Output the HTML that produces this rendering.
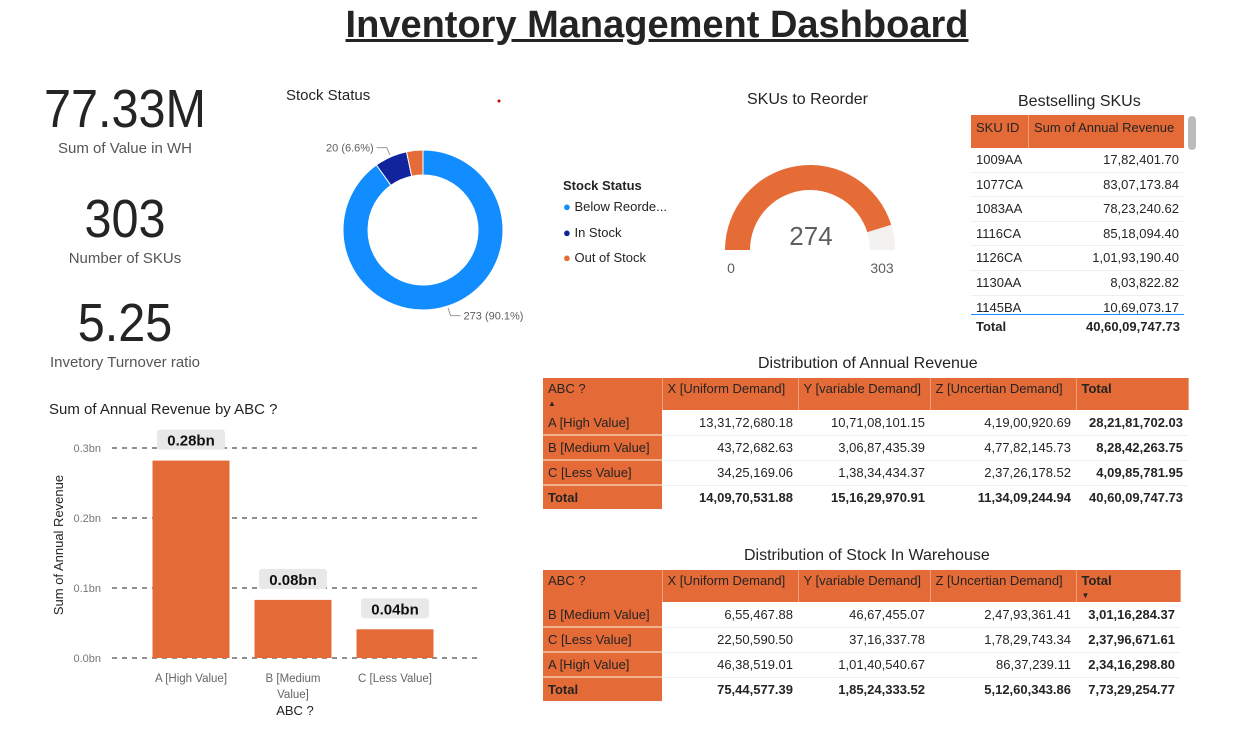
<!DOCTYPE html>
<html><head><meta charset="utf-8"><style>
*{box-sizing:border-box;margin:0;padding:0}
body{width:1236px;height:731px;background:#fff;font-family:"Liberation Sans",sans-serif;position:relative;overflow:hidden;color:#252423}
.abs{position:absolute}
.kpi{position:absolute;text-align:center;width:250px;left:0}
.kv{font-size:54px;color:#252423;transform:scaleX(0.9)}
.kl{font-size:15px;color:#555}
table{border-collapse:collapse;position:absolute;font-size:13px;table-layout:fixed}
td,th{padding:0 5px;white-space:nowrap;overflow:hidden}
.mt th{background:#E46A37;color:#252423;font-weight:normal;text-align:left;vertical-align:top;padding-top:4px;line-height:13px;border-right:1px solid #f0a07a;height:27px}
.mt td{text-align:right;border-bottom:1px solid #eee;height:25px;line-height:23px}
.mt td.f{background:#E46A37;text-align:left;border-bottom:2px solid #f3b08f}
.mt tr.t td{font-weight:bold;border-bottom:none;height:23px}
.b{font-weight:bold}
</style></head><body>
<div class="abs" style="left:0;width:1314px;top:4px;text-align:center;font-size:38px;font-weight:bold;text-decoration:underline">Inventory Management Dashboard</div>

<div class="kpi" style="top:78px"><div class="kv">77.33M</div><div class="kl">Sum of Value in WH</div></div>
<div class="kpi" style="top:188px"><div class="kv">303</div><div class="kl">Number of SKUs</div></div>
<div class="kpi" style="top:292px"><div class="kv">5.25</div><div class="kl">Invetory Turnover ratio</div></div>

<div class="abs" style="left:286px;top:87px;font-size:15px">Stock Status</div>
<svg class="abs" style="left:0;top:0" width="1236" height="731">
<g id="donut"></g>
<g id="gauge"></g>
<g id="bars"></g>
<circle cx="499" cy="101" r="1.5" fill="#c00"/>
</svg>
<div class="abs" style="left:563px;top:178px;font-size:13px;line-height:25.5px">
<div class="b" style="line-height:16px">Stock Status</div>
<div><span style="color:#118DFF">●</span> Below Reorde...</div>
<div><span style="color:#12239E">●</span> In Stock</div>
<div><span style="color:#E66C37">●</span> Out of Stock</div>
</div>
<div class="abs" style="left:747px;top:91px;font-size:16px">SKUs to Reorder</div>

<div class="abs" style="left:1018px;top:93px;font-size:16px">Bestselling SKUs</div>
<div class="abs" style="left:1188px;top:116px;width:8px;height:34px;background:#bbb;border-radius:4px"></div>
<div class="abs" style="left:971px;top:115px;width:213px;height:200px;overflow:hidden;font-size:13px">
<div style="background:#E46A37;height:33px;display:flex;line-height:26px"><div style="width:58px;padding-left:5px;border-right:1px solid #f0a07a">SKU ID</div><div style="padding-left:5px">Sum of Annual Revenue</div></div>
<div id="skurows"></div></div>
<div class="abs" style="left:971px;top:314px;width:213px;border-top:1px solid #118DFF"></div>
<div class="abs b" style="left:976px;top:319px;width:204px;font-size:13px;display:flex;justify-content:space-between"><span>Total</span><span>40,60,09,747.73</span></div>

<div class="abs" style="left:758px;top:355px;font-size:16px">Distribution of Annual Revenue</div>
<table class="mt" style="left:543px;top:378px;width:645px">
<colgroup><col style="width:119px"><col style="width:136px"><col style="width:132px"><col style="width:146px"><col style="width:112px"></colgroup>
<tr><th>ABC ?<br><span style="font-size:8px">▲</span></th><th>X [Uniform Demand]</th><th>Y [variable Demand]</th><th>Z [Uncertian Demand]</th><th style="font-weight:bold">Total</th></tr>
<tr><td class="f">A [High Value]</td><td>13,31,72,680.18</td><td>10,71,08,101.15</td><td>4,19,00,920.69</td><td class="b">28,21,81,702.03</td></tr>
<tr><td class="f">B [Medium Value]</td><td>43,72,682.63</td><td>3,06,87,435.39</td><td>4,77,82,145.73</td><td class="b">8,28,42,263.75</td></tr>
<tr><td class="f">C [Less Value]</td><td>34,25,169.06</td><td>1,38,34,434.37</td><td>2,37,26,178.52</td><td class="b">4,09,85,781.95</td></tr>
<tr class="t"><td class="f">Total</td><td>14,09,70,531.88</td><td>15,16,29,970.91</td><td>11,34,09,244.94</td><td>40,60,09,747.73</td></tr>
</table>

<div class="abs" style="left:744px;top:547px;font-size:16px">Distribution of Stock In Warehouse</div>
<table class="mt" style="left:543px;top:570px;width:637px">
<colgroup><col style="width:119px"><col style="width:136px"><col style="width:132px"><col style="width:146px"><col style="width:104px"></colgroup>
<tr><th>ABC ?</th><th>X [Uniform Demand]</th><th>Y [variable Demand]</th><th>Z [Uncertian Demand]</th><th style="font-weight:bold">Total<br><span style="font-size:8px">▼</span></th></tr>
<tr><td class="f">B [Medium Value]</td><td>6,55,467.88</td><td>46,67,455.07</td><td>2,47,93,361.41</td><td class="b">3,01,16,284.37</td></tr>
<tr><td class="f">C [Less Value]</td><td>22,50,590.50</td><td>37,16,337.78</td><td>1,78,29,743.34</td><td class="b">2,37,96,671.61</td></tr>
<tr><td class="f">A [High Value]</td><td>46,38,519.01</td><td>1,01,40,540.67</td><td>86,37,239.11</td><td class="b">2,34,16,298.80</td></tr>
<tr class="t"><td class="f">Total</td><td>75,44,577.39</td><td>1,85,24,333.52</td><td>5,12,60,343.86</td><td>7,73,29,254.77</td></tr>
</table>

<div class="abs" style="left:49px;top:401px;font-size:15px">Sum of Annual Revenue by ABC ?</div>

<script>
const NS="http://www.w3.org/2000/svg";
function mk(p,t,a){const e=document.createElementNS(NS,t);for(const k in a)e.setAttribute(k,a[k]);p.appendChild(e);return e;}
const skuIds=["1009AA","1077CA","1083AA","1116CA","1126CA","1130AA","1145BA"];
const skuRev=["17,82,401.70","83,07,173.84","78,23,240.62","85,18,094.40","1,01,93,190.40","8,03,822.82","10,69,073.17"];
const sr=document.getElementById('skurows');
skuIds.forEach((id,i)=>{const r=document.createElement('div');


r.style.cssText="display:flex;justify-content:space-between;height:24.6px;line-height:24px;padding:0 5px;border-bottom:1px solid #eee";
r.innerHTML="<span>"+id+"</span><span>"+skuRev[i]+"</span>";sr.appendChild(r);});

const stockLabels=["Below Reorder","In Stock","Out of Stock"];
const stockValues=[273,20,10];
const stockColors=["#118DFF","#12239E","#E66C37"];
const dg=document.getElementById('donut');
const cx=423,cy=230,R=80,r0=55;
const tot=stockValues.reduce((a,b)=>a+b,0);
let ang=0;
function pt(a,rr){return [cx+rr*Math.sin(a),cy-rr*Math.cos(a)];}
stockValues.forEach((v,i)=>{const a0=ang,a1=ang+v/tot*2*Math.PI;ang=a1;
const l=(a1-a0)>Math.PI?1:0;const p1=pt(a0,R),p2=pt(a1,R),p3=pt(a1,r0),p4=pt(a0,r0);
const s=mk(dg,'path',{d:`M${p1}A${R},${R} 0 ${l} 1 ${p2}L${p3}A${r0},${r0} 0 ${l} 0 ${p4}Z`,fill:stockColors[i],stroke:"#fff","stroke-width":1});


if(i<2){const m=(a0+a1)/2;const q1=pt(m,R+2),q2=pt(m,R+10);const right=Math.sin(m)>0;
const ex=q2[0]+(right?10:-10);
mk(dg,'polyline',{points:`${q1} ${q2} ${ex},${q2[1]}`,fill:"none",stroke:"#999"});
const t=mk(dg,'text',{x:ex+(right?3:-3),y:q2[1]+4,"font-size":11,fill:"#605E5C","text-anchor":right?"start":"end"});
t.textContent=v+" ("+(v/tot*100).toFixed(1)+"%)";}
});

const gaugeValue=274,gaugeMax=303,gaugeMin=0;
const gg=document.getElementById('gauge');
const gx=810,gy=250,GR=85,gr=60;
function gp(f,rr){const a=Math.PI*(1-f);return [gx+rr*Math.cos(a),gy-rr*Math.sin(a)];}
function arc(f0,f1,c,n){const a=gp(f0,GR),b=gp(f1,GR),d=gp(f1,gr),e=gp(f0,gr);
const p=mk(gg,'path',{d:`M${a}A${GR},${GR} 0 0 1 ${b}L${d}A${gr},${gr} 0 0 0 ${e}Z`,fill:c});

}
const gf=(gaugeValue-gaugeMin)/(gaugeMax-gaugeMin);
arc(0,gf,"#E66C37","gauge-fill");arc(gf,1,"#F3F2F1","gauge-remainder");
let t=mk(gg,'text',{x:gx+1,y:gy-5,"font-size":26,fill:"#605E5C","text-anchor":"middle"});t.textContent=gaugeValue;
t=mk(gg,'text',{x:gx-79,y:gy+23,"font-size":14,fill:"#605E5C","text-anchor":"middle"});t.textContent=gaugeMin;
t=mk(gg,'text',{x:gx+72,y:gy+23,"font-size":14,fill:"#605E5C","text-anchor":"middle"});t.textContent=gaugeMax;

const abcCats=["A [High Value]","B [Medium Value]","C [Less Value]"];
const abcRevenue=[0.282,0.083,0.041];
const abcLabels=["0.28bn","0.08bn","0.04bn"];
const yTicks=[0,0.1,0.2,0.3];
const yTickLabels=["0.0bn","0.1bn","0.2bn","0.3bn"];
const bg=document.getElementById('bars');
const y0=658,pxPer=700;function ys(v){return y0-v*pxPer;}
const bx0=140,bw=102;function xs(i){return bx0+bw*(i+0.5);}
yTicks.forEach((v,i)=>{mk(bg,'line',{x1:112,x2:477,y1:ys(v),y2:ys(v),stroke:"#222","stroke-dasharray":"5,5"});
const tt=mk(bg,'text',{x:101,y:ys(v)+4,"font-size":11,fill:"#777","text-anchor":"end"});tt.textContent=yTickLabels[i];});
abcRevenue.forEach((v,i)=>{const c=xs(i);
const rb=mk(bg,'rect',{x:c-38.5,y:ys(v),width:77,height:v*pxPer,fill:"#E46A37"});


mk(bg,'rect',{x:c-34,y:ys(v)-31,width:68,height:20,rx:3,fill:"#E8E8E8"});
const lt=mk(bg,'text',{x:c,y:ys(v)-15,"font-size":15,"font-weight":"bold",fill:"#111","text-anchor":"middle"});lt.textContent=abcLabels[i];
const parts=abcCats[i]==="B [Medium Value]"?["B [Medium","Value]"]:[abcCats[i]];
parts.forEach((p,j)=>{const xt=mk(bg,'text',{x:c,y:682+j*16,"font-size":11.5,fill:"#666","text-anchor":"middle"});xt.textContent=p;});
});
t=mk(bg,'text',{x:295,y:715,"font-size":13,fill:"#252423","text-anchor":"middle"});t.textContent="ABC ?";
t=mk(bg,'text',{x:63,y:545,"font-size":13,fill:"#252423","text-anchor":"middle",transform:"rotate(-90 63 545)"});t.textContent="Sum of Annual Revenue";
</script>
</body></html>
